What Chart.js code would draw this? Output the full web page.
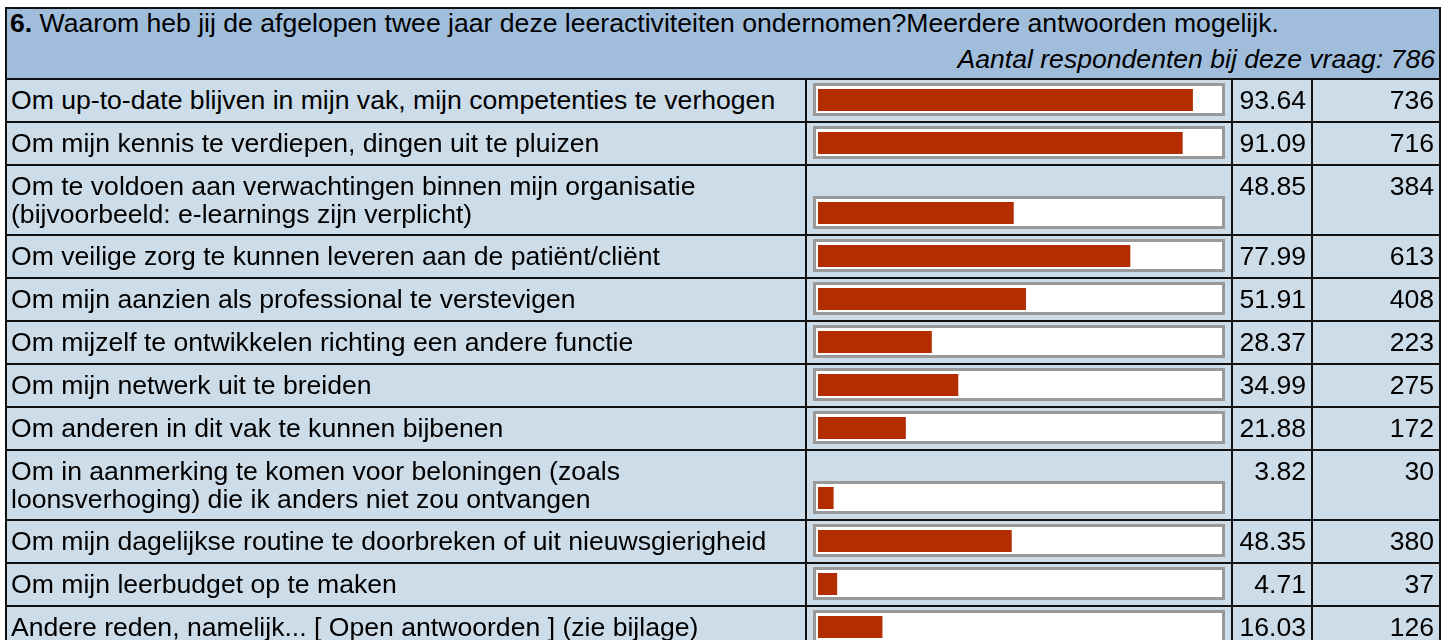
<!DOCTYPE html>
<html>
<head>
<meta charset="utf-8">
<script src="https://cdn.jsdelivr.net/npm/chart.js@4.4.1/dist/chart.umd.min.js"></script>
<style>
  html, body { margin: 0; padding: 0; background: #fff; overflow: hidden; }
  body { width: 1453px; height: 640px; }
  table {
    position: absolute; left: 5px; top: 7px;
    border-collapse: collapse; table-layout: fixed;
    font-family: "Liberation Sans", Arial, sans-serif; font-size: 26.6px; color: #000;
  }
  td { border: 2px solid #111; background: #cddce9; line-height: 28px;
       padding: 6px 4px 7px 4px; vertical-align: top; white-space: pre-line; }
  tr.two td { padding-bottom: 6px; }
  td.head { background: #a0bedc; padding: 0px 4px 5px 3px; }
  td.head .sub { text-align: right; font-style: italic; margin-top: 8px; }
  td.num { text-align: right; padding-right: 5px; }
  td.barcell, tr.two td.barcell { vertical-align: bottom; padding: 3px 5px 5px 6px; }
  .frame { width: 412px; height: 33px; box-sizing: border-box; border: 3px solid #999;
           background: #fff; }
  .frame canvas { display: block; }
</style>
</head>
<body>
<table id="tbl">
  <colgroup><col style="width:800px"><col style="width:426px"><col style="width:80px"><col style="width:128px"></colgroup>
  <tbody id="rows">
    <tr><td class="head" colspan="4"><div><b>6.</b> Waarom heb jij de afgelopen twee jaar deze leeractiviteiten ondernomen?Meerdere antwoorden mogelijk.</div><div class="sub">Aantal respondenten bij deze vraag: 786</div></td></tr>
  </tbody>
</table>
<script>
const reasons = [
  'Om up-to-date blijven in mijn vak, mijn competenties te verhogen',
  'Om mijn kennis te verdiepen, dingen uit te pluizen',
  'Om te voldoen aan verwachtingen binnen mijn organisatie\n(bijvoorbeeld: e-learnings zijn verplicht)',
  'Om veilige zorg te kunnen leveren aan de patiënt/cliënt',
  'Om mijn aanzien als professional te verstevigen',
  'Om mijzelf te ontwikkelen richting een andere functie',
  'Om mijn netwerk uit te breiden',
  'Om anderen in dit vak te kunnen bijbenen',
  'Om in aanmerking te komen voor beloningen (zoals\nloonsverhoging) die ik anders niet zou ontvangen',
  'Om mijn dagelijkse routine te doorbreken of uit nieuwsgierigheid',
  'Om mijn leerbudget op te maken',
  'Andere reden, namelijk... [ Open antwoorden ] (zie bijlage)',
];
const percents = [93.64, 91.09, 48.85, 77.99, 51.91, 28.37, 34.99, 21.88, 3.82, 48.35, 4.71, 16.03];
const counts = [736, 716, 384, 613, 408, 223, 275, 172, 30, 380, 37, 126];

const BAR_COLOUR = '#b32d00';
const tbody = document.getElementById('rows');

reasons.forEach((label, i) => {
  const tr = document.createElement('tr');
  if (label.includes('\n')) tr.className = 'two';

  const tdLabel = document.createElement('td');
  tdLabel.textContent = label;

  const tdBar = document.createElement('td');
  tdBar.className = 'barcell';
  const frame = document.createElement('div');
  frame.className = 'frame';
  const canvas = document.createElement('canvas');
  canvas.width = 406;
  canvas.height = 27;
  frame.appendChild(canvas);
  tdBar.appendChild(frame);

  const tdPct = document.createElement('td');
  tdPct.className = 'num';
  tdPct.textContent = percents[i].toFixed(2);

  const tdCnt = document.createElement('td');
  tdCnt.className = 'num';
  tdCnt.textContent = String(counts[i]);

  tr.append(tdLabel, tdBar, tdPct, tdCnt);
  tbody.appendChild(tr);

  new Chart(canvas, {
    type: 'bar',
    data: {
      labels: [label],
      datasets: [{
        data: [percents[i]],
        backgroundColor: BAR_COLOUR,
        borderWidth: 0,
        barPercentage: 1,
        categoryPercentage: 1,
      }],
    },
    options: {
      indexAxis: 'y',
      responsive: false,
      animation: false,
      layout: { padding: { left: 2, right: 4, top: 3, bottom: 2 } },
      plugins: { legend: { display: false }, tooltip: { enabled: false } },
      scales: {
        x: { min: 0, max: 100, display: false },
        y: { display: false },
      },
    },
  });
});
</script>
</body>
</html>
